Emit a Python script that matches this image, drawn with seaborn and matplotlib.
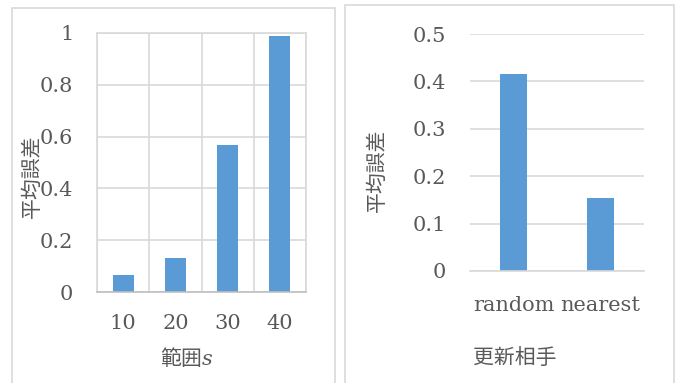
import matplotlib
matplotlib.use("Agg")
import matplotlib.pyplot as plt
import seaborn as sns
import pandas as pd
from matplotlib.patches import Rectangle

# data
range_labels = ["10", "20", "30", "40"]
range_errors = [0.067, 0.131, 0.568, 0.99]
partner_labels = ["random", "nearest"]
partner_errors = [0.416, 0.153]
left_yticks = [0, 0.2, 0.4, 0.6, 0.8, 1.0]
left_yticklabels = ["0", "0.2", "0.4", "0.6", "0.8", "1"]
right_yticks = [0, 0.1, 0.2, 0.3, 0.4, 0.5]
right_yticklabels = ["0", "0.1", "0.2", "0.3", "0.4", "0.5"]
y_title = "平均誤差"
left_x_title = "範囲$s$"
right_x_title = "更新相手"

BAR = "#5B9BD5"
GRID = "#D9D9D9"
AXIS = "#BFBFBF"
TEXT = "#595959"
JP = ["Noto Sans CJK JP", "DejaVu Sans"]

sns.set_theme(style="white")
plt.rcParams["font.family"] = ["DejaVu Serif", "Noto Sans CJK JP"]
plt.rcParams["mathtext.fontset"] = "dejavuserif"

W, H = 677, 383
fig = plt.figure(figsize=(W / 100, H / 100), dpi=100)
fig.patch.set_facecolor("white")


def fx(x):
    return x / W


def fy(y):
    return 1 - y / H


# chart frames
for x0, y0, x1 in [(12, 8, 335), (345, 5, 674)]:
    fig.add_artist(Rectangle((fx(x0), fy(H + 20)), fx(x1) - fx(x0), fy(y0) - fy(H + 20),
                             transform=fig.transFigure, fill=False,
                             edgecolor=GRID, linewidth=1.2))

# left chart
ax1 = fig.add_axes([fx(97), fy(292), fx(306) - fx(97), fy(33) - fy(292)])
df1 = pd.DataFrame({"range": range_labels, "error": range_errors})
sns.barplot(data=df1, x="range", y="error", ax=ax1, color=BAR, saturation=1,
            width=0.4, linewidth=0)
ax1.set_xlim(-0.5, len(range_labels) - 0.5)
ax1.set_ylim(0, 1.0)
ax1.set_yticks(left_yticks)
ax1.set_yticklabels(left_yticklabels)
ax1.set_xticks([i - 0.5 for i in range(len(range_labels) + 1)], minor=True)
ax1.grid(True, axis="y", which="major", color=GRID, linewidth=1.2)
ax1.grid(True, axis="x", which="minor", color=GRID, linewidth=1.2)
ax1.set_axisbelow(True)
for side in ["left", "right", "top"]:
    ax1.spines[side].set_color(GRID)
    ax1.spines[side].set_linewidth(1.2)
ax1.spines["bottom"].set_color(AXIS)
ax1.spines["bottom"].set_linewidth(1.2)
ax1.tick_params(axis="both", which="both", length=0, labelsize=15, colors=TEXT)
ax1.tick_params(axis="y", pad=17)
ax1.tick_params(axis="x", pad=16)
ax1.set_xlabel("")
ax1.set_ylabel("")

# right chart
ax2 = fig.add_axes([fx(470), fy(271), fx(644) - fx(470), fy(34) - fy(271)])
df2 = pd.DataFrame({"partner": partner_labels, "error": partner_errors})
sns.barplot(data=df2, x="partner", y="error", ax=ax2, color=BAR, saturation=1,
            width=0.32, linewidth=0)
ax2.set_xlim(-0.5, len(partner_labels) - 0.5)
ax2.set_ylim(0, 0.5)
ax2.set_yticks(right_yticks)
ax2.set_yticklabels(right_yticklabels)
ax2.grid(True, axis="y", which="major", color=GRID, linewidth=1.2)
ax2.set_axisbelow(True)
for side in ["left", "right", "top"]:
    ax2.spines[side].set_visible(False)
ax2.spines["bottom"].set_color(GRID)
ax2.spines["bottom"].set_linewidth(1.2)
ax2.tick_params(axis="both", which="both", length=0, labelsize=15, colors=TEXT)
ax2.tick_params(axis="y", pad=17)
ax2.tick_params(axis="x", pad=18)
ax2.set_xlabel("")
ax2.set_ylabel("")

# axis titles
fig.text(fx(32), fy(176), y_title, rotation=90, ha="center", va="center",
         fontsize=15, color=TEXT, family=JP)
fig.text(fx(377), fy(170), y_title, rotation=90, ha="center", va="center",
         fontsize=15, color=TEXT, family=JP)
fig.text(fx(187), fy(358), left_x_title, ha="center", va="center",
         fontsize=15, color=TEXT, family=JP)
fig.text(fx(515), fy(358), right_x_title, ha="center", va="center",
         fontsize=15, color=TEXT, family=JP)

fig.savefig("out.png", dpi=100, facecolor="white")
